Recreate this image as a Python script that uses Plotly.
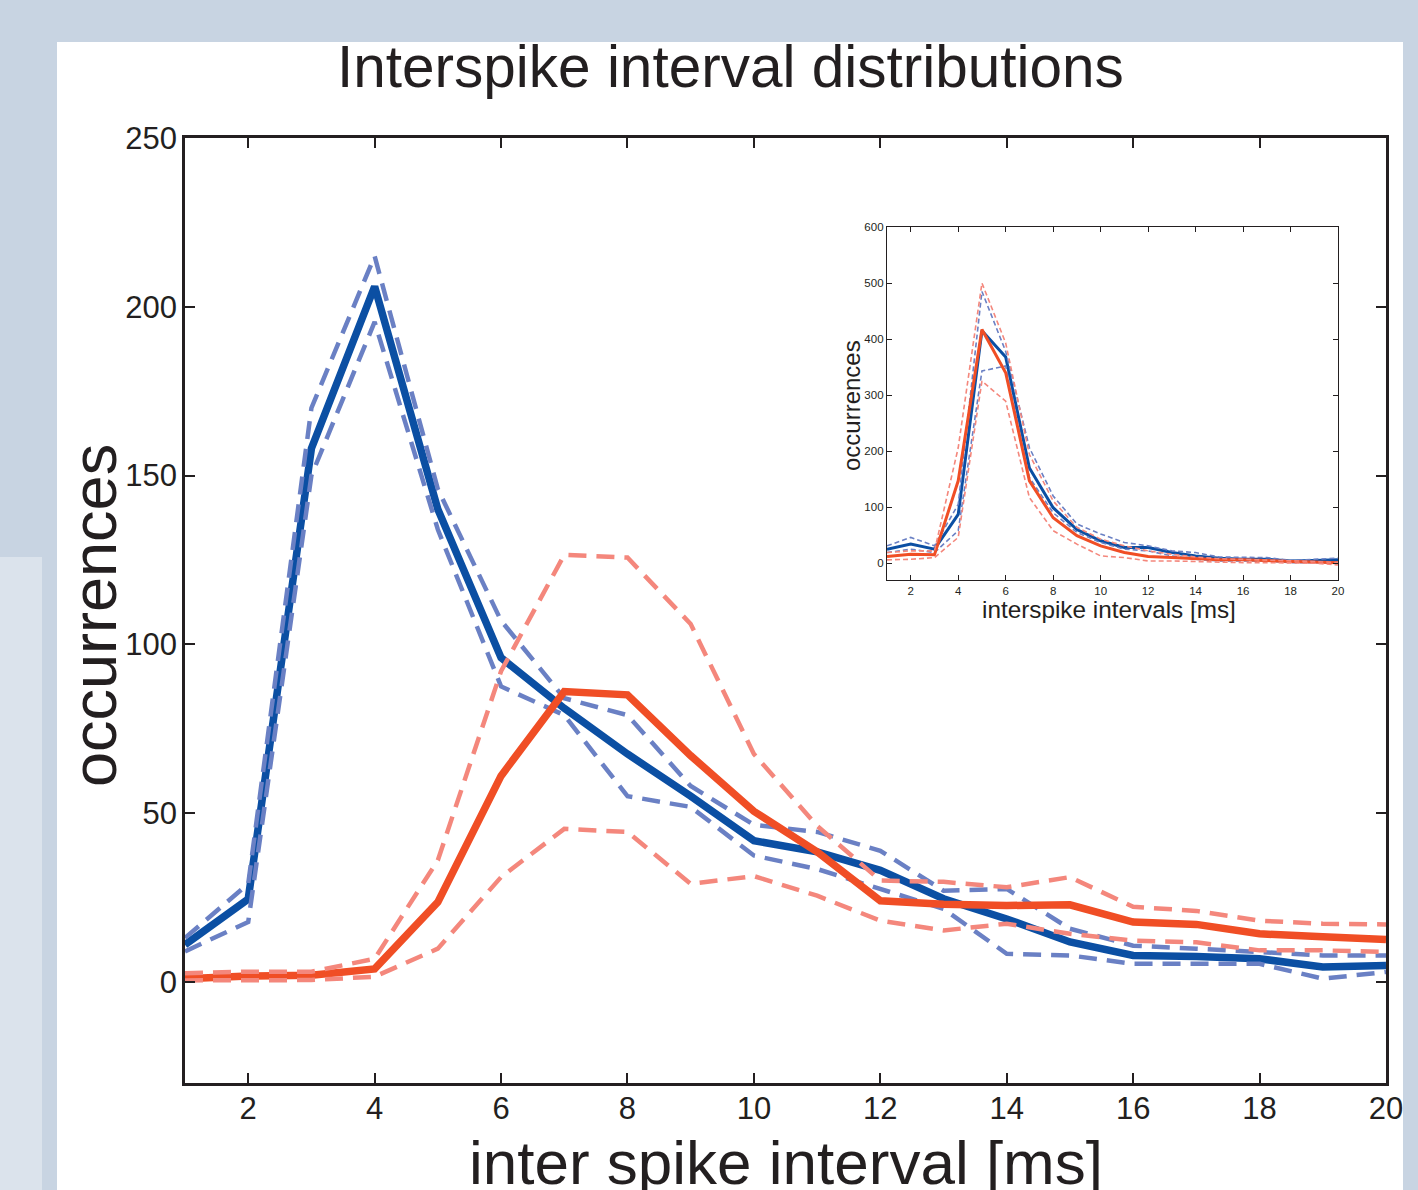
import plotly.graph_objects as go

# ---------------- data ----------------
isi_ms = list(range(1, 21))

# main panel
blue_mean = [11, 24.5, 158, 206, 140, 96, 81, 67.5, 55, 41.8, 38.5, 33, 24.6, 18.6, 11.8, 7.8, 7.5, 6.8, 4.4, 4.8]
blue_upper = [13, 29, 170, 215, 146, 107, 84, 79, 58, 46.5, 44.4, 38.8, 27, 27.5, 15.7, 10.7, 9.8, 8.9, 7.8, 7.8]
blue_lower = [9, 17.7, 150, 195.5, 134, 87.5, 79, 55, 51.8, 37.4, 33.4, 27.5, 21.6, 8.3, 7.8, 5.3, 5.3, 5.3, 0.9, 2.9]
red_mean = [0.9, 1.7, 1.9, 3.8, 23.6, 61, 86, 85, 67, 50.5, 38.5, 24, 23, 22.6, 22.8, 17.7, 17, 14.2, 13.3, 12.5]
red_upper = [2.5, 3, 3, 6.8, 36, 92, 126.5, 125.7, 106, 67.5, 46.2, 30, 29.6, 28, 31, 22.2, 21, 18.1, 17.2, 17]
red_lower = [0.4, 0.3, 0.5, 1.5, 9.8, 31, 45.3, 44.4, 29, 31.3, 25.5, 18.1, 15.2, 17.2, 14.2, 12.2, 11.7, 9.3, 9.3, 8.8]

# inset panel
in_blue_mean = [25, 34, 25, 87, 415, 368, 170, 99, 60, 40, 28, 28, 19, 13, 9, 7, 7, 4, 5, 6]
in_blue_upper = [31, 46, 31, 105, 485, 378, 206, 120, 70, 52, 37, 31, 22, 19, 11, 10, 10, 5, 7, 9]
in_blue_lower = [19, 25, 19, 58, 343, 352, 153, 90, 55, 37, 25, 22, 13, 7, 4, 4, 4, 1, 1, 1]
in_red_mean = [12, 16, 15, 147, 417, 340, 147, 81, 49, 31, 19, 12, 10, 8, 6, 6, 4, 3, 2, 1]
in_red_upper = [19, 22, 22, 206, 500, 393, 194, 111, 64, 43, 31, 22, 16, 11, 8, 7, 5, 4, 3, 1]
in_red_lower = [6, 7, 10, 46, 325, 289, 117, 58, 34, 13, 10, 4, 4, 3, 1, 1, 1, 1, 0, -3]

main_xticks = [2, 4, 6, 8, 10, 12, 14, 16, 18, 20]
main_yticks = [0, 50, 100, 150, 200, 250]
inset_yticks = [0, 100, 200, 300, 400, 500, 600]

title_text = "Interspike interval distributions"
main_xlabel = "inter spike interval [ms]"
main_ylabel = "occurrences"
inset_xlabel = "interspike intervals [ms]"
inset_ylabel = "occurrences"

# ---------------- styling ----------------
W, H = 1418, 1190
def fx(px):
    return px / W
def fy(py):
    return 1 - py / H

BLUE = "#0b4fa3"
BLUE_D = "#6a80c4"
RED = "#f04e25"
RED_D = "#f4877c"
INK = "#231f20"
FONT = "Liberation Sans, Arial, Helvetica, sans-serif"

fig = go.Figure()

def add(y, color, width, dash, xa="x", ya="y"):
    fig.add_trace(go.Scatter(x=isi_ms, y=y, mode="lines",
                             line=dict(color=color, width=width, dash=dash),
                             xaxis=xa, yaxis=ya, showlegend=False,
                             hoverinfo="skip"))

# main
add(blue_mean, BLUE, 7.5, "solid")
add(blue_upper, BLUE_D, 4.5, "18px,10px")
add(blue_lower, BLUE_D, 4.5, "18px,10px")
add(red_mean, RED, 7.5, "solid")
add(red_upper, RED_D, 4.5, "18px,10px")
add(red_lower, RED_D, 4.5, "18px,10px")

# inset
add(in_blue_mean, BLUE, 3, "solid", "x2", "y2")
add(in_blue_upper, BLUE_D, 1.6, "5px,3px", "x2", "y2")
add(in_blue_lower, BLUE_D, 1.6, "5px,3px", "x2", "y2")
add(in_red_mean, RED, 3, "solid", "x2", "y2")
add(in_red_upper, RED_D, 1.6, "5px,3px", "x2", "y2")
add(in_red_lower, RED_D, 1.6, "5px,3px", "x2", "y2")

axis_common = dict(showline=True, mirror="ticks", linecolor=INK, showgrid=False,
                   zeroline=False, ticks="inside", tickcolor=INK, automargin=False)

fig.update_layout(
    width=W, height=H,
    margin=dict(l=0, r=0, t=0, b=0, pad=0, autoexpand=False),
    paper_bgcolor="#c8d4e2",
    plot_bgcolor="#ffffff",
    font=dict(family=FONT, color=INK),
    xaxis=dict(domain=[fx(185), fx(1386)], range=[1, 20], tickvals=main_xticks,
               ticklen=10, tickwidth=1.5, linewidth=2.5,
               tickfont=dict(size=31, color=INK), anchor="y", ticklabelstandoff=-4,
               **axis_common),
    yaxis=dict(domain=[fy(1083), fy(138)], range=[-30, 250], tickvals=main_yticks,
               ticklen=10, tickwidth=1.5, linewidth=2.5,
               tickfont=dict(size=31, color=INK), anchor="x", ticklabelstandoff=-1,
               **axis_common),
    xaxis2=dict(domain=[fx(887), fx(1338)], range=[1, 20], tickvals=main_xticks,
                ticklen=5, tickwidth=1, linewidth=1.3,
                tickfont=dict(size=11.5, color=INK), anchor="y2",
                **axis_common),
    yaxis2=dict(domain=[fy(580), fy(227)], range=[-30, 600], tickvals=inset_yticks,
                ticklen=5, tickwidth=1, linewidth=1.3,
                tickfont=dict(size=11.5, color=INK), anchor="x2",
                **axis_common),
    shapes=[
        dict(type="rect", xref="paper", yref="paper", x0=fx(57), x1=fx(1403),
             y0=0, y1=fy(42), fillcolor="#ffffff", line=dict(width=0), layer="below"),
        dict(type="rect", xref="paper", yref="paper", x0=0, x1=fx(42),
             y0=0, y1=fy(557), fillcolor="#dbe3ec", line=dict(width=0), layer="below"),
    ],
    annotations=[
        dict(text=title_text, xref="paper", yref="paper", x=fx(730), y=fy(66),
             xanchor="center", yanchor="middle", showarrow=False,
             font=dict(size=58.5, color=INK)),
        dict(text=main_xlabel, xref="paper", yref="paper", x=fx(786), y=fy(1162),
             xanchor="center", yanchor="middle", showarrow=False,
             font=dict(size=62, color=INK)),
        dict(text=main_ylabel, xref="paper", yref="paper", x=fx(94), y=fy(615),
             xanchor="center", yanchor="middle", showarrow=False, textangle=-90,
             font=dict(size=63, color=INK)),
        dict(text=inset_xlabel, xref="paper", yref="paper", x=fx(1109), y=fy(609),
             xanchor="center", yanchor="middle", showarrow=False,
             font=dict(size=24.3, color=INK)),
        dict(text=inset_ylabel, xref="paper", yref="paper", x=fx(851), y=fy(405),
             xanchor="center", yanchor="middle", showarrow=False, textangle=-90,
             font=dict(size=24, color=INK)),
    ],
)

fig.write_html("out.html")
